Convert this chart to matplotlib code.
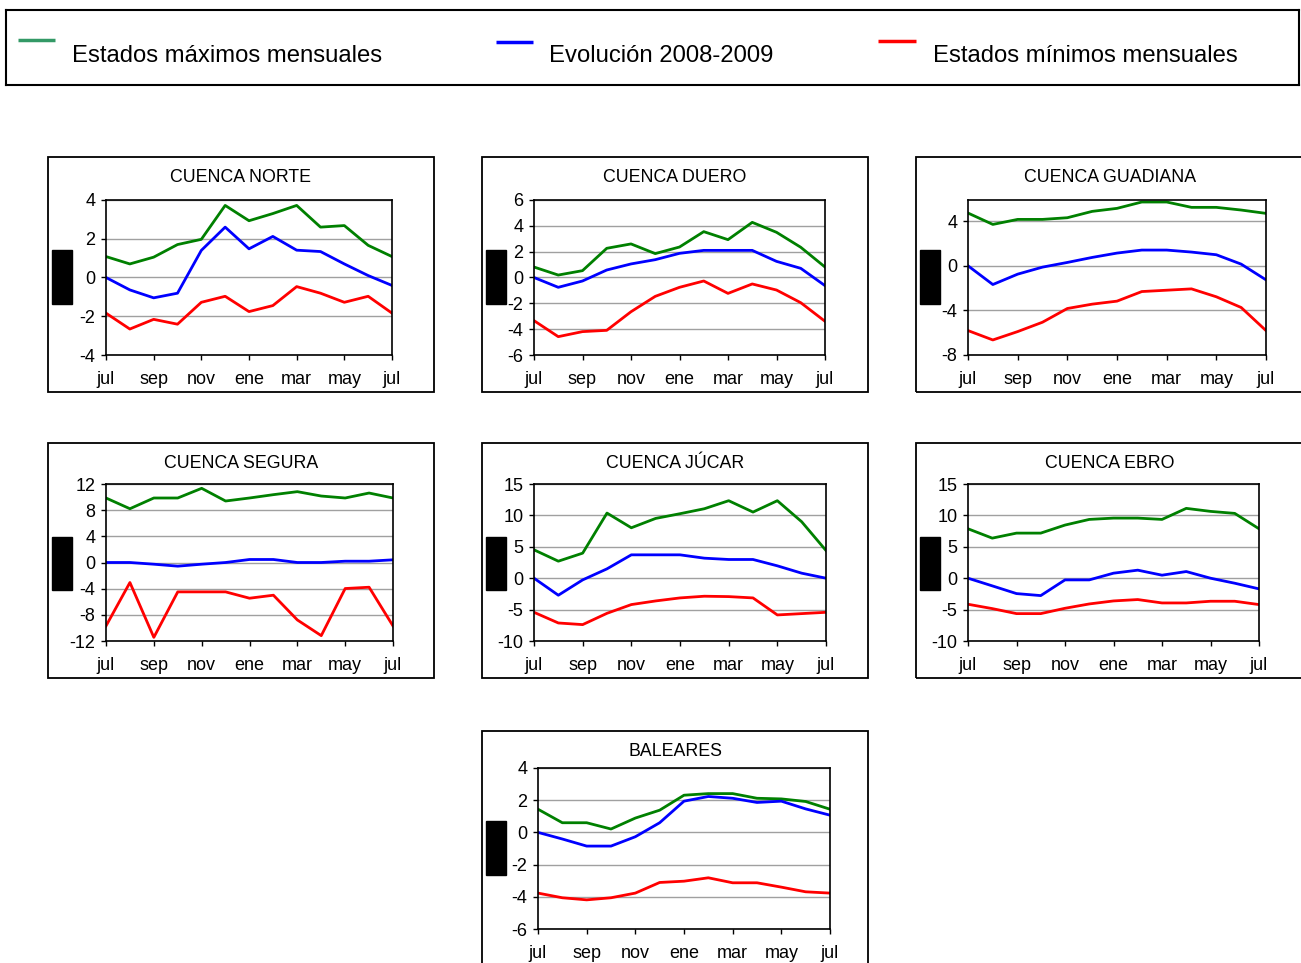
import matplotlib
matplotlib.use("Agg")
import matplotlib.pyplot as plt
from matplotlib.patches import Rectangle

plt.rcParams['font.family'] = ['Liberation Sans', 'DejaVu Sans']
plt.rcParams['axes.unicode_minus'] = False

months = ['jul', 'sep', 'nov', 'ene', 'mar', 'may', 'jul']
legend_labels = ['Estados máximos mensuales', 'Evolución 2008-2009', 'Estados mínimos mensuales']

norte_max = [1.08, 0.7, 1.05, 1.7, 1.97, 3.72, 2.93, 3.3, 3.72, 2.6, 2.68, 1.66, 1.08]
norte_evo = [0.0, -0.64, -1.05, -0.81, 1.4, 2.6, 1.48, 2.12, 1.41, 1.34, 0.7, 0.1, -0.41]
norte_min = [-1.84, -2.66, -2.16, -2.41, -1.28, -0.97, -1.76, -1.45, -0.47, -0.81, -1.28, -0.97, -1.84]

duero_max = [0.81, 0.19, 0.53, 2.26, 2.6, 1.85, 2.36, 3.55, 2.93, 4.27, 3.5, 2.34, 0.81]
duero_evo = [0.0, -0.76, -0.27, 0.58, 1.05, 1.38, 1.87, 2.1, 2.1, 2.1, 1.25, 0.71, -0.63]
duero_min = [-3.34, -4.58, -4.19, -4.09, -2.65, -1.46, -0.76, -0.27, -1.23, -0.5, -0.97, -1.95, -3.39]

guadiana_max = [4.73, 3.71, 4.16, 4.16, 4.31, 4.88, 5.15, 5.72, 5.72, 5.24, 5.24, 5.0, 4.7]
guadiana_evo = [0.0, -1.68, -0.75, -0.12, 0.3, 0.75, 1.14, 1.41, 1.41, 1.23, 0.99, 0.15, -1.26]
guadiana_min = [-5.81, -6.65, -5.9, -5.06, -3.83, -3.44, -3.17, -2.31, -2.19, -2.07, -2.78, -3.74, -5.81]

segura_max = [9.86, 8.22, 9.86, 9.86, 11.34, 9.4, 9.86, 10.37, 10.83, 10.16, 9.86, 10.62, 9.86]
segura_evo = [0.0, 0.0, -0.26, -0.56, -0.26, 0.0, 0.46, 0.46, 0.0, 0.0, 0.2, 0.2, 0.41]
segura_min = [-9.7, -3.06, -11.44, -4.49, -4.49, -4.49, -5.46, -5.0, -8.78, -11.18, -3.98, -3.78, -9.7]

jucar_max = [4.52, 2.71, 3.99, 10.37, 8.03, 9.52, 10.27, 11.06, 12.34, 10.53, 12.34, 8.99, 4.41]
jucar_evo = [0.0, -2.71, -0.27, 1.49, 3.72, 3.72, 3.72, 3.19, 2.98, 2.98, 1.97, 0.8, 0.0]
jucar_min = [-5.43, -7.13, -7.39, -5.59, -4.2, -3.62, -3.14, -2.87, -2.93, -3.14, -5.85, -5.64, -5.43]

ebro_max = [7.87, 6.38, 7.18, 7.18, 8.46, 9.36, 9.57, 9.57, 9.36, 11.12, 10.64, 10.32, 7.87]
ebro_evo = [0.0, -1.22, -2.45, -2.77, -0.27, -0.27, 0.8, 1.28, 0.48, 1.06, 0.0, -0.8, -1.7]
ebro_min = [-4.15, -4.84, -5.64, -5.64, -4.79, -4.1, -3.62, -3.4, -3.94, -3.94, -3.67, -3.67, -4.2]

baleares_max = [1.44, 0.6, 0.6, 0.21, 0.89, 1.38, 2.31, 2.41, 2.41, 2.12, 2.08, 1.92, 1.44]
baleares_evo = [0.0, -0.41, -0.85, -0.85, -0.27, 0.6, 1.94, 2.23, 2.12, 1.86, 1.94, 1.46, 1.07]
baleares_min = [-3.77, -4.06, -4.19, -4.06, -3.77, -3.11, -3.03, -2.82, -3.13, -3.13, -3.4, -3.69, -3.77]

W, H = 1301, 963
GREEN, BLUE, RED = '#008000', '#0000ff', '#ff0000'
LEG_GREEN = '#339966'


def frac(l, t, r, b):
    return [l / W, 1 - b / H, (r - l) / W, (b - t) / H]


fig = plt.figure(figsize=(W / 100, H / 100), dpi=100)

# legend box
leg = fig.add_axes(frac(6, 10, 1299, 85))
leg.set_xlim(6, 1299)
leg.set_ylim(85, 10)
leg.set_xticks([])
leg.set_yticks([])
for s in leg.spines.values():
    s.set_linewidth(1.5)
for (x0, x1, y, tx), c, lab in zip([(18, 55, 40, 72), (496, 533, 42, 549), (878, 916, 41, 933)],
                                     [LEG_GREEN, BLUE, RED], legend_labels):
    leg.plot([x0, x1], [y, y], color=c, lw=2.5, solid_capstyle='butt')
    leg.text(tx, 56, lab, fontsize=17.2, va='center', ha='left')

# panels: title, data, ylim, yticks, frame box, axes box, black block
panels = [
    ('CUENCA NORTE', norte_max, norte_evo, norte_min, (-4, 4), [-4, -2, 0, 2, 4],
     (48, 157, 434, 392), (106, 200, 392, 355), (52, 250, 72, 304)),
    ('CUENCA DUERO', duero_max, duero_evo, duero_min, (-6, 6), [-6, -4, -2, 0, 2, 4, 6],
     (482, 157, 868, 392), (534, 200, 825, 355), (486, 250, 506, 304)),
    ('CUENCA GUADIANA', guadiana_max, guadiana_evo, guadiana_min, (-8, 5.9), [-8, -4, 0, 4],
     (916, 157, 1310, 392), (968, 200, 1266, 355), (920, 250, 940, 304)),
    ('CUENCA SEGURA', segura_max, segura_evo, segura_min, (-12, 12), [-12, -8, -4, 0, 4, 8, 12],
     (48, 443, 434, 678), (106, 484, 393, 641), (52, 537, 72, 590)),
    ('CUENCA JÚCAR', jucar_max, jucar_evo, jucar_min, (-10, 15), [-10, -5, 0, 5, 10, 15],
     (482, 443, 868, 678), (534, 484, 826, 641), (486, 537, 506, 590)),
    ('CUENCA EBRO', ebro_max, ebro_evo, ebro_min, (-10, 15), [-10, -5, 0, 5, 10, 15],
     (916, 443, 1310, 678), (968, 484, 1259, 641), (920, 537, 940, 590)),
    ('BALEARES', baleares_max, baleares_evo, baleares_min, (-6, 4), [-6, -4, -2, 0, 2, 4],
     (482, 731, 868, 975), (538, 768, 830, 929), (486, 821, 506, 875)),
]

for title, smax, sevo, smin, ylim, yt, box, axbox, blk in panels:
    l, t, r, b = box
    fig.patches.append(Rectangle((l / W, 1 - b / H), (r - l) / W, (b - t) / H,
                                 transform=fig.transFigure, fill=False, ec='black', lw=1.3))
    fig.text((l + min(r, 1304)) / 2 / W, 1 - (t + 20) / H, title,
             fontsize=12.8, ha='center', va='center')
    l, t, r, b = blk
    fig.patches.append(Rectangle((l / W, 1 - b / H), (r - l) / W, (b - t) / H,
                                 transform=fig.transFigure, fc='black', ec='black'))

    ax = fig.add_axes(frac(*axbox))
    x = list(range(len(smax)))
    ax.plot(x, smax, color=GREEN, lw=2)
    ax.plot(x, sevo, color=BLUE, lw=2)
    ax.plot(x, smin, color=RED, lw=2)
    ax.set_xlim(0, 12)
    ax.set_ylim(*ylim)
    ax.set_xticks(range(0, 13, 2))
    ax.set_xticklabels(months)
    ax.set_yticks(yt)
    ax.yaxis.grid(True, color='#a0a0a0', lw=1)
    ax.set_axisbelow(True)
    ax.tick_params(axis='both', direction='out', length=3.5, width=1, labelsize=13, pad=4)
    ax.tick_params(axis='x', pad=8)
    for s in ax.spines.values():
        s.set_linewidth(1.2)
        s.set_color('black')

fig.savefig('out.png', dpi=100)
